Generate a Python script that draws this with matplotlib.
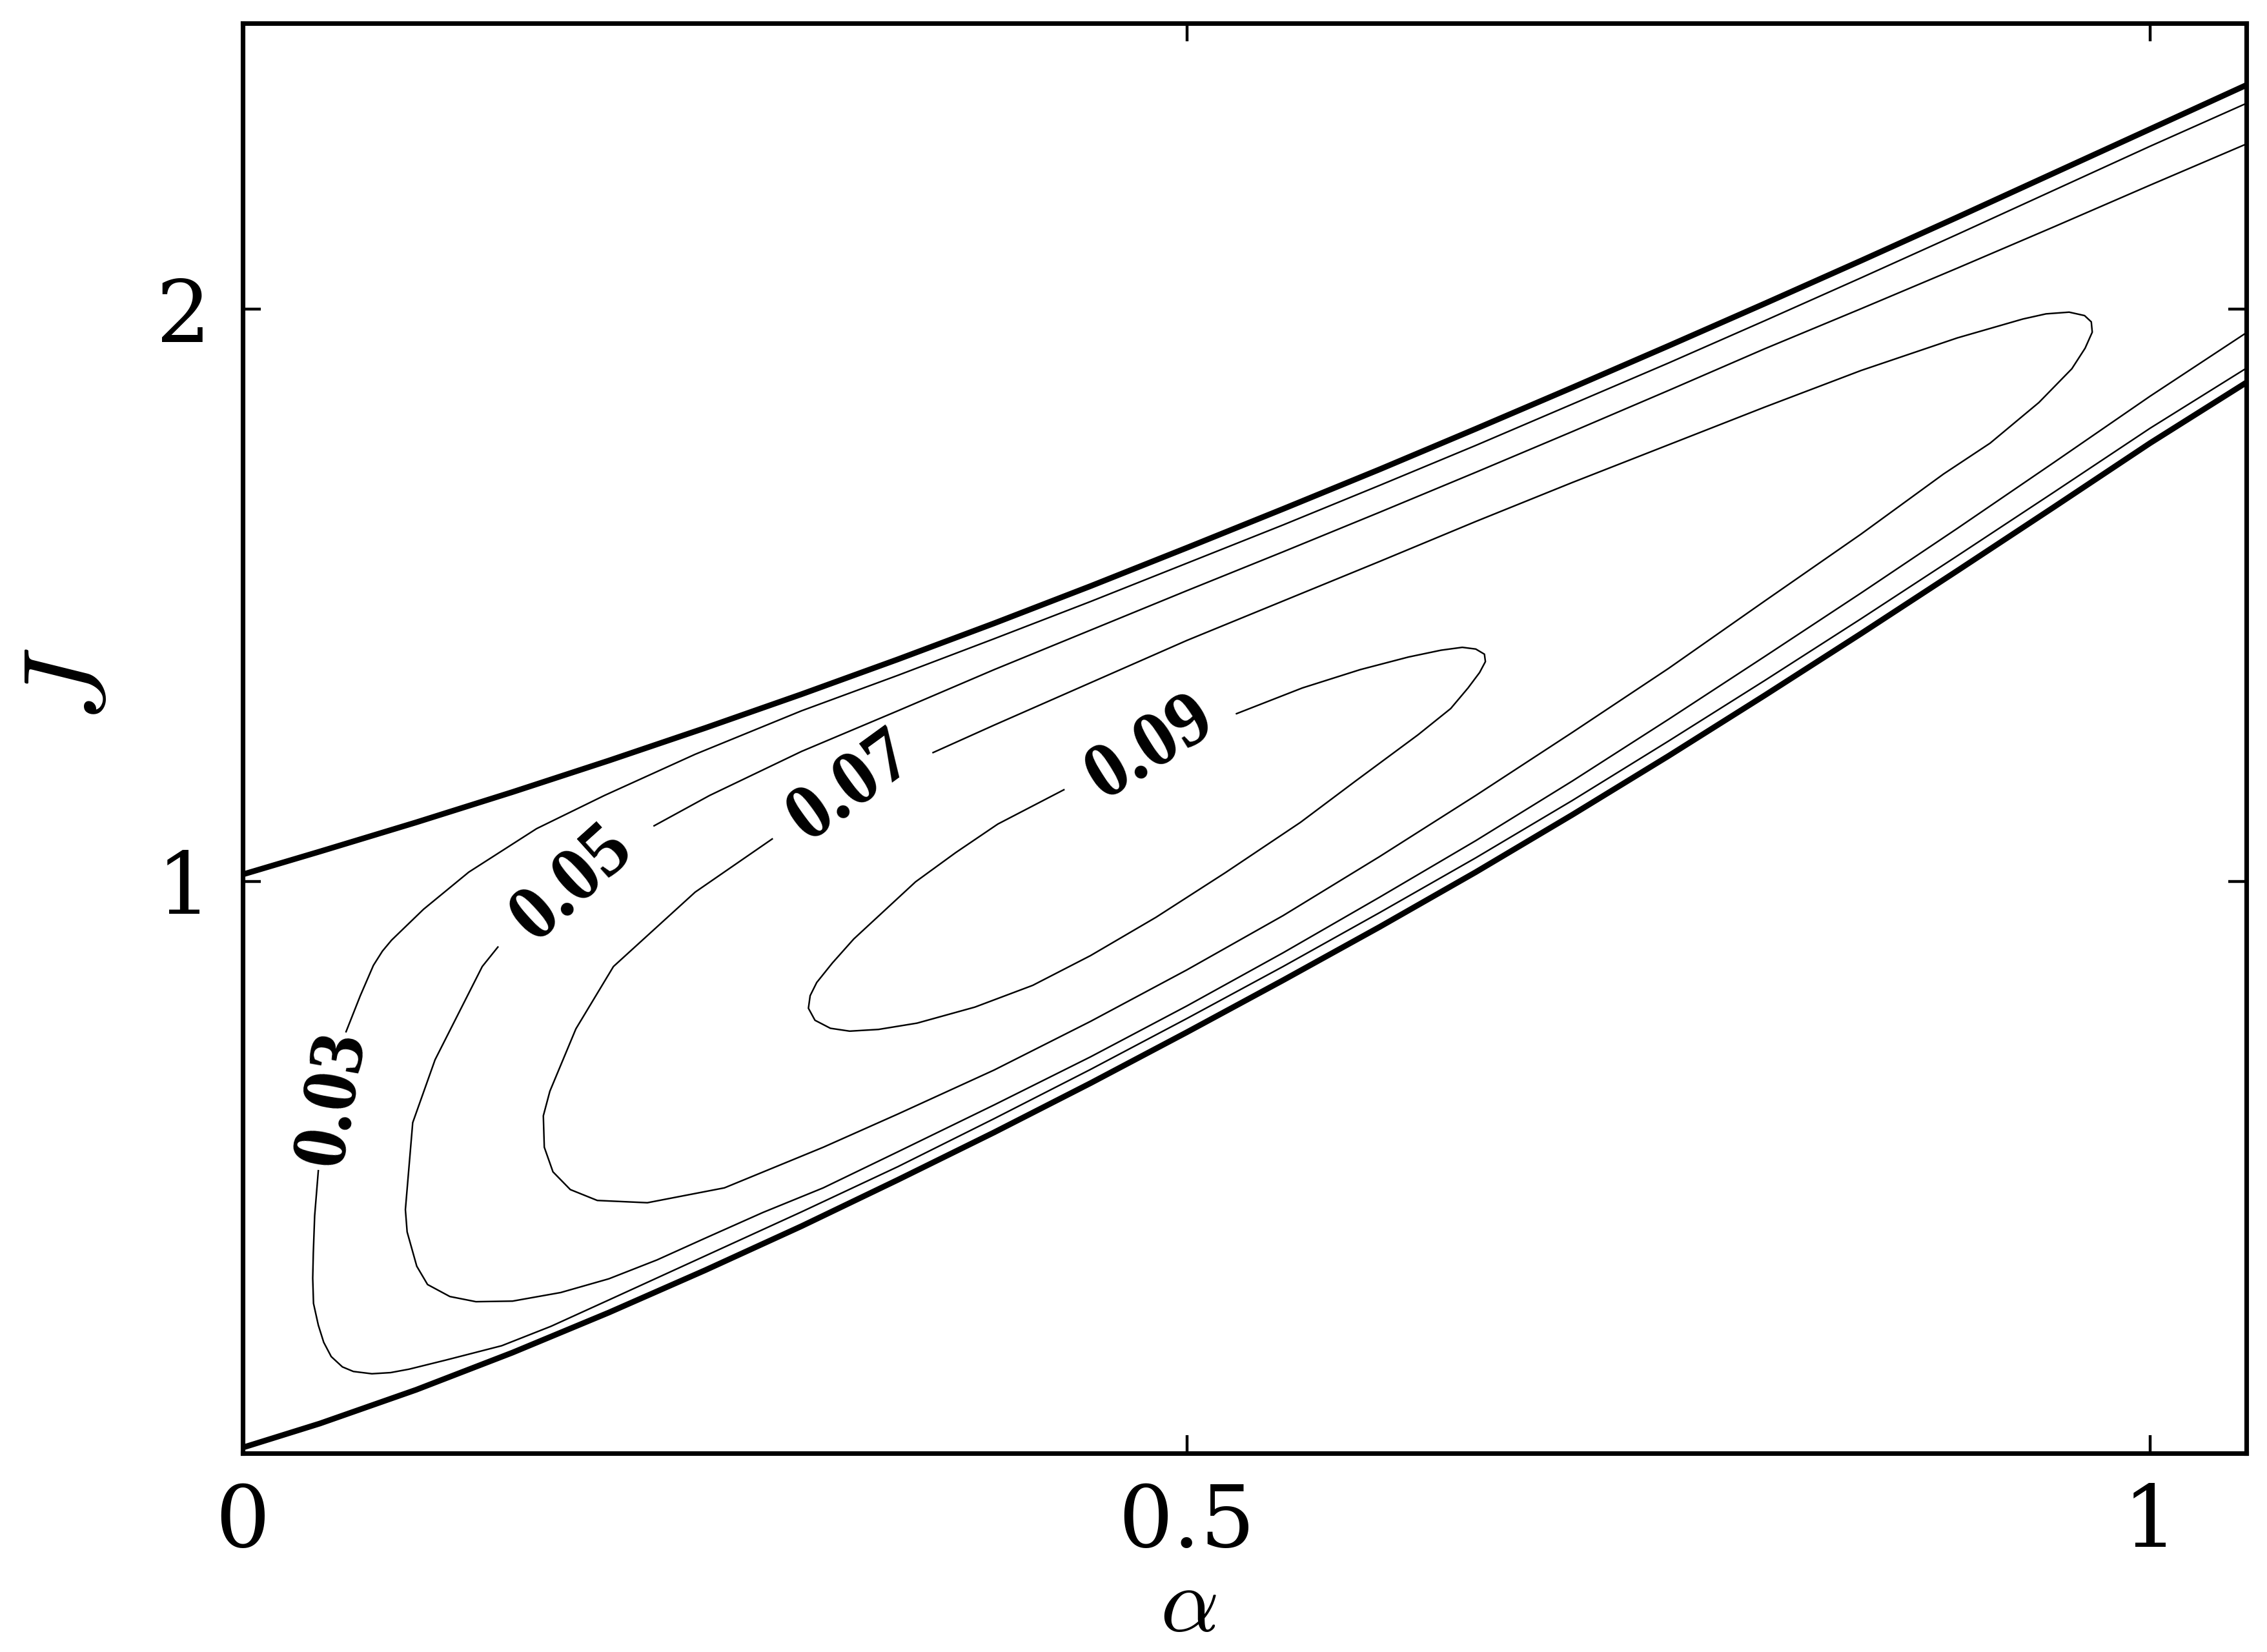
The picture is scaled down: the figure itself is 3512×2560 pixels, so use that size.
import matplotlib
matplotlib.use("Agg")
from matplotlib import pyplot as plt

# contour lines, alpha on x, J on y
# thick boundary lines
upper_x = [0.01, 0.05, 0.10, 0.15, 0.20, 0.25, 0.30, 0.35, 0.40, 0.45, 0.50, 0.55,
           0.60, 0.65, 0.70, 0.75, 0.80, 0.85, 0.90, 0.95, 1.00, 1.05]
upper_y = [1.012, 1.052, 1.103, 1.156, 1.211, 1.268, 1.327, 1.388, 1.451, 1.516, 1.583, 1.651,
           1.720, 1.791, 1.863, 1.936, 2.010, 2.085, 2.161, 2.238, 2.315, 2.392]
lower_x = [0.01, 0.05, 0.10, 0.15, 0.20, 0.25, 0.30, 0.35, 0.40, 0.45, 0.50, 0.55,
           0.60, 0.65, 0.70, 0.75, 0.80, 0.85, 0.90, 0.95, 1.00, 1.05]
lower_y = [0.010, 0.052, 0.111, 0.176, 0.246, 0.320, 0.397, 0.478, 0.561, 0.647, 0.736, 0.827,
           0.920, 1.016, 1.116, 1.219, 1.325, 1.433, 1.543, 1.654, 1.766, 1.872]

# level 0.03 (two pieces, split at its label)
c03a_x = [1.05, 1.00, 0.95, 0.90, 0.85, 0.80, 0.75, 0.70, 0.65, 0.60, 0.55, 0.50, 0.45, 0.40,
          0.35, 0.30, 0.2448, 0.1977, 0.1625, 0.1273, 0.1038, 0.0872, 0.0825, 0.0778, 0.071, 0.0636]
c03a_y = [2.360, 2.285, 2.208, 2.131, 2.055, 1.980, 1.906, 1.834, 1.762, 1.692, 1.623, 1.556, 1.489, 1.424,
          1.360, 1.298, 1.222, 1.150, 1.092, 1.016, 0.951, 0.897, 0.878, 0.853, 0.800, 0.737]
c03b_x = [0.0492, 0.0473, 0.0466, 0.0463, 0.0467, 0.0492, 0.052, 0.0559, 0.0617, 0.0674, 0.077, 0.0867,
          0.0963, 0.1155, 0.1444, 0.17, 0.20, 0.25, 0.30, 0.35, 0.40, 0.45, 0.50, 0.55, 0.60,
          0.65, 0.70, 0.75, 0.80, 0.85, 0.90, 0.95, 1.00, 1.05]
c03b_y = [0.494, 0.415, 0.350, 0.306, 0.262, 0.224, 0.194, 0.169, 0.151, 0.143, 0.139, 0.141,
          0.147, 0.163, 0.188, 0.222, 0.268, 0.345, 0.422, 0.501, 0.585, 0.671, 0.760, 0.851, 0.945,
          1.041, 1.141, 1.245, 1.351, 1.459, 1.569, 1.680, 1.792, 1.897]

# level 0.05
c05a_x = [1.05, 1.00, 0.95, 0.90, 0.85, 0.80, 0.75, 0.70, 0.65, 0.60, 0.55, 0.50, 0.45, 0.40,
          0.35, 0.30, 0.2523, 0.2235]
c05a_y = [2.289, 2.217, 2.144, 2.072, 2.001, 1.931, 1.858, 1.786, 1.715, 1.645, 1.576, 1.508, 1.439, 1.370,
          1.298, 1.227, 1.150, 1.097]
c05b_x = [0.1424, 0.1343, 0.1098, 0.0982, 0.0944, 0.0953, 0.1003, 0.1059, 0.1175, 0.131, 0.15, 0.175,
          0.20, 0.225, 0.25, 0.28, 0.3113, 0.35, 0.40, 0.45, 0.50, 0.55, 0.60, 0.65, 0.70, 0.75,
          0.80, 0.85, 0.90, 0.95, 1.00, 1.05]
c05b_y = [0.885, 0.851, 0.688, 0.578, 0.426, 0.387, 0.327, 0.295, 0.274, 0.265, 0.266, 0.281,
          0.305, 0.338, 0.376, 0.421, 0.464, 0.527, 0.609, 0.693, 0.782, 0.875, 0.972, 1.071, 1.175, 1.283,
          1.393, 1.504, 1.617, 1.732, 1.848, 1.959]

# level 0.07 (closed, open only where the label sits)
c07_x = [0.2848, 0.2448, 0.2024, 0.1829, 0.1694, 0.166, 0.1665, 0.171, 0.18, 0.194, 0.22, 0.26,
         0.3113, 0.35, 0.40, 0.45, 0.50, 0.55, 0.60, 0.65, 0.70, 0.75, 0.80, 0.85, 0.8928,
         0.917, 0.9423, 0.9594, 0.9663, 0.970, 0.9695, 0.966, 0.958, 0.946, 0.934, 0.90, 0.85,
         0.80, 0.75, 0.70, 0.65, 0.60, 0.55, 0.50, 0.45, 0.40, 0.3683]
c07_y = [1.074, 0.981, 0.851, 0.742, 0.633, 0.590, 0.535, 0.492, 0.461, 0.442, 0.438, 0.464,
         0.535, 0.593, 0.670, 0.755, 0.845, 0.940, 1.043, 1.150, 1.260, 1.372, 1.490, 1.607, 1.712,
         1.766, 1.837, 1.896, 1.932, 1.960, 1.978, 1.989, 1.995, 1.992, 1.983, 1.950, 1.893,
         1.829, 1.763, 1.697, 1.629, 1.559, 1.490, 1.421, 1.347, 1.273, 1.225]

# level 0.09
c09_x = [0.5258, 0.56, 0.59, 0.615, 0.632, 0.643, 0.650, 0.6545, 0.655, 0.652, 0.646, 0.637, 0.62,
         0.5875, 0.559, 0.52, 0.484, 0.45, 0.42, 0.39, 0.36, 0.34, 0.325, 0.315, 0.307, 0.3036,
         0.3045, 0.3079, 0.316, 0.3271, 0.3592, 0.38, 0.4019, 0.4362]
c09_y = [1.293, 1.338, 1.370, 1.392, 1.404, 1.409, 1.406, 1.397, 1.384, 1.365, 1.338, 1.302, 1.256,
         1.175, 1.103, 1.015, 0.937, 0.870, 0.818, 0.780, 0.752, 0.741, 0.738, 0.743, 0.757, 0.778,
         0.800, 0.823, 0.857, 0.899, 0.999, 1.050, 1.100, 1.160]

levels = ["0.03", "0.05", "0.07", "0.09"]

plt.rcParams["mathtext.fontset"] = "cm"
plt.rcParams["font.family"] = "DejaVu Serif"

fig = plt.figure(figsize=(10.975, 8.0), dpi=320)
ax = fig.add_axes([0.1071, 0.1203, 0.8838, 0.8656])

thin = dict(color="black", lw=0.55)
thick = dict(color="black", lw=2.0)

ax.plot(upper_x, upper_y, **thick)
ax.plot(lower_x, lower_y, **thick)
for xs, ys in [(c03a_x, c03a_y), (c03b_x, c03b_y), (c05a_x, c05a_y), (c05b_x, c05b_y),
               (c07_x, c07_y), (c09_x, c09_y)]:
    ax.plot(xs, ys, **thin)

# inline contour labels
label_pos = [(0.057, 0.620, 80), (0.181, 0.995, 42), (0.3255, 1.164, 36), (0.481, 1.232, 32)]
for text, (lx, ly, ang) in zip(levels, label_pos):
    ax.text(lx, ly, text, rotation=ang, rotation_mode="anchor", ha="center", va="center",
            fontsize=27, fontweight="bold", family="Liberation Serif")

ax.set_xlim(0.01, 1.05)
ax.set_ylim(0, 2.5)
ax.set_xticks([0.01, 0.5, 1.0], ["0", "0.5", "1"])
ax.set_yticks([1, 2], ["1", "2"])
ax.tick_params(direction="in", length=6.3, width=1.0, labelsize=30, top=True, right=True)
ax.tick_params(axis="x", pad=10)
ax.tick_params(axis="y", pad=11)
for sp in ax.spines.values():
    sp.set_linewidth(1.6)

ax.set_xlabel(r"$\alpha$", fontsize=32, va="bottom", ha="center")
ax.set_ylabel(r"$J$", fontsize=40, va="center", ha="center")
ax.xaxis.set_label_coords(0.472, -0.1375)
ax.yaxis.set_label_coords(-0.085, 0.537)

fig.savefig("out.png", dpi=320)
